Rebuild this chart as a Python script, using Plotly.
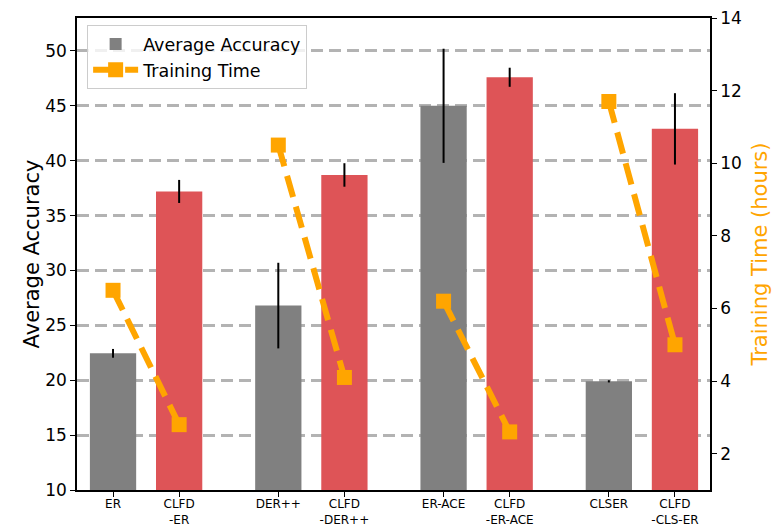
import plotly.graph_objects as go

methods = ["ER", "CLFD<br>-ER", "DER++", "CLFD<br>-DER++",
           "ER-ACE", "CLFD<br>-ER-ACE", "CLSER", "CLFD<br>-CLS-ER"]
positions = [0, 1, 2.5, 3.5, 5, 6, 7.5, 8.5]

# Average accuracy (mean, std) for baselines and CLFD variants
base_acc = [22.45, 26.8, 45.0, 19.9]
base_err = [0.4, 3.9, 5.2, 0.1]
clfd_acc = [37.2, 38.7, 47.6, 42.9]
clfd_err = [1.05, 1.07, 0.87, 3.25]

# Training time in hours: (baseline, CLFD) per method pair
time_pairs = [[6.5, 2.8], [10.5, 4.1], [6.2, 2.6], [11.7, 5.0]]

base_x = positions[0::2]
clfd_x = positions[1::2]

font = "DejaVu Sans"
orange = "#FFA500"

fig = go.Figure()

fig.add_trace(go.Bar(
    x=base_x, y=base_acc, width=0.7, name="Average Accuracy",
    marker=dict(color="#808080", line=dict(width=0)),
    error_y=dict(type="data", array=base_err, color="black", thickness=2, width=0),
))
fig.add_trace(go.Bar(
    x=clfd_x, y=clfd_acc, width=0.7, name="CLFD", showlegend=False,
    marker=dict(color="#DE5457", line=dict(width=0)),
    error_y=dict(type="data", array=clfd_err, color="black", thickness=2, width=0),
))

for i, pair in enumerate(time_pairs):
    fig.add_trace(go.Scatter(
        x=[base_x[i], clfd_x[i]], y=pair, yaxis="y2",
        mode="lines+markers", name="Training Time", showlegend=(i == 0),
        line=dict(color=orange, width=6, dash="22px,10px"),
        marker=dict(symbol="square", size=15, color=orange),
    ))

fig.update_layout(
    width=772, height=526,
    margin=dict(l=77, r=62, t=18, b=36),
    plot_bgcolor="white", paper_bgcolor="white",
    font=dict(family=font, color="black"),
    barmode="overlay",
    showlegend=True,
    legend=dict(
        x=0.016, y=0.985, xanchor="left", yanchor="top",
        bgcolor="rgba(255,255,255,0.8)", bordercolor="#cccccc", borderwidth=1,
        font=dict(size=17.5, family=font), traceorder="normal",
        itemwidth=45,
    ),
    xaxis=dict(
        range=[-0.545, 9.03], automargin=False,
        tickmode="array", tickvals=positions, ticktext=methods,
        tickfont=dict(size=12, family=font), ticklabelstandoff=-3,
        ticks="outside", ticklen=5, tickwidth=1.3, tickcolor="black",
        showline=True, linecolor="black", linewidth=1.5, mirror=True,
        showgrid=False, zeroline=False,
    ),
    yaxis=dict(
        range=[10, 53.0], automargin=False,
        tickvals=[10, 15, 20, 25, 30, 35, 40, 45, 50],
        tickfont=dict(size=17, family=font),
        ticks="outside", ticklen=5, tickwidth=1.3, tickcolor="black",
        showline=True, linecolor="black", linewidth=1.5,
        showgrid=True, gridcolor="#b3b3b3", gridwidth=3, griddash="12px,6px",
        zeroline=False,
        title=dict(text="Average Accuracy", font=dict(size=21, family=font), standoff=0),
    ),
    yaxis2=dict(
        overlaying="y", side="right",
        range=[1, 14], automargin=False,
        tickvals=[2, 4, 6, 8, 10, 12, 14],
        tickfont=dict(size=17, family=font),
        ticks="outside", ticklen=5, tickwidth=1.3, tickcolor="black",
        showline=True, linecolor="black", linewidth=1.5,
        showgrid=False, zeroline=False,
        title=dict(text="Training Time (hours)", font=dict(size=21, family=font, color=orange), standoff=14),
    ),
)

fig.write_html("out.html")
